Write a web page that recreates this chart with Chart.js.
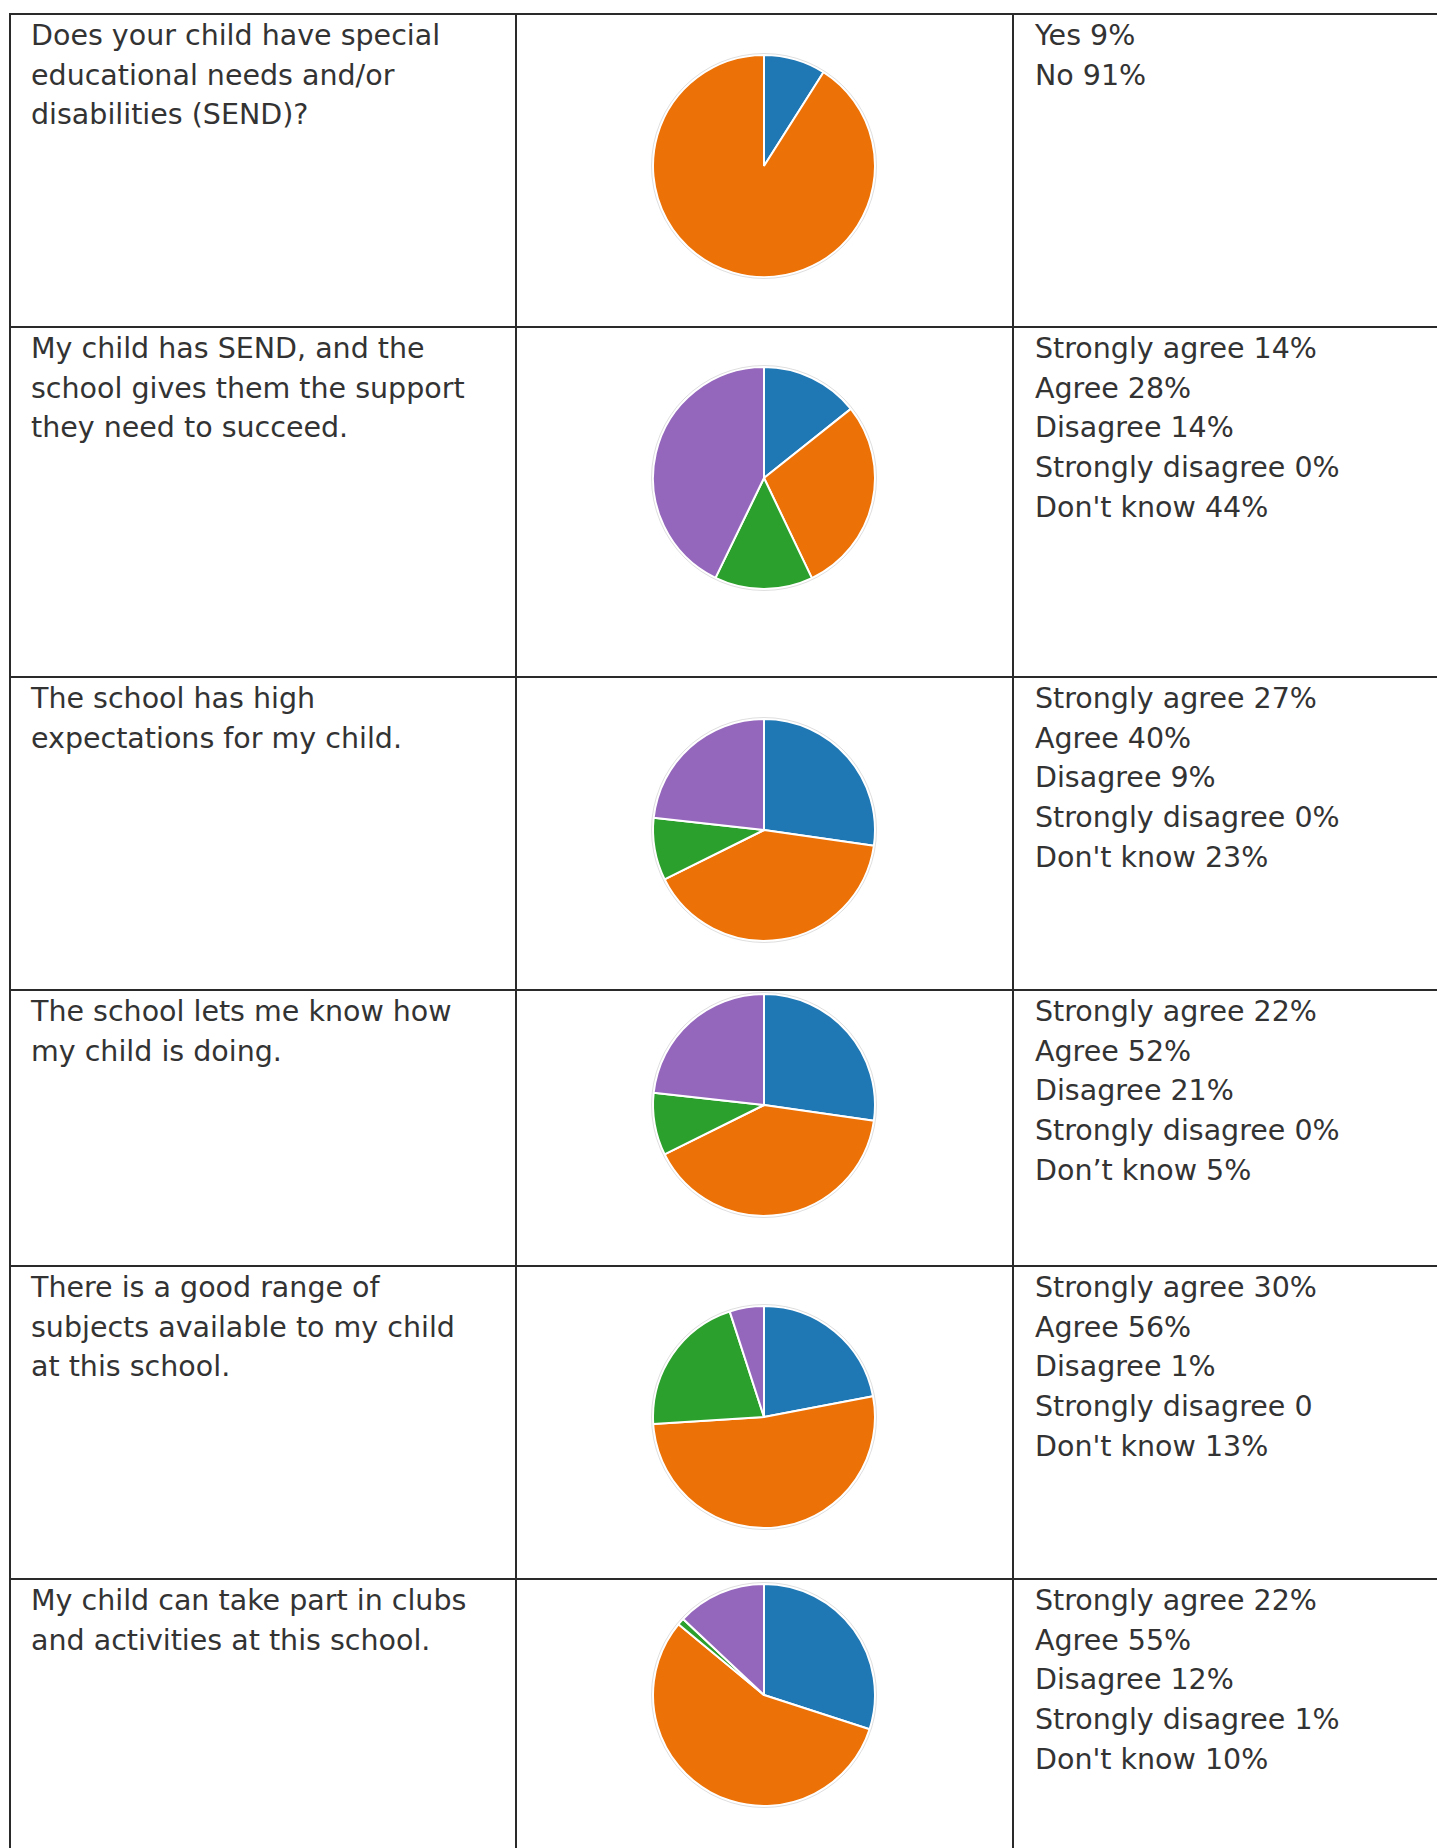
<!DOCTYPE html>
<html>
<head>
<meta charset="utf-8">
<script src="https://cdn.jsdelivr.net/npm/chart.js@4.4.0/dist/chart.umd.min.js"></script>
<style>
  body {
    margin: 0;
    background: #fff;
    width: 1437px;
    height: 1848px;
    overflow: hidden;
    position: relative;
    font-family: "DejaVu Sans", sans-serif;
    color: #333;
  }
  .cell {
    position: absolute;
    box-sizing: border-box;
    border-top: 2px solid #2a2a2a;
    border-left: 2px solid #2a2a2a;
    font-size: 28.5px;
    line-height: 39.7px;
    white-space: pre-line;
    padding-top: 1px;
  }
  .q { padding-left: 20px; }
  .answers { padding-left: 21px; }
  .pie { position: absolute; width: 228px; height: 228px; }
</style>
</head>
<body>
<script>
const $ = document;

// questions (left column)
const questions = [
  "Does your child have special\neducational needs and/or\ndisabilities (SEND)?",
  "My child has SEND, and the\nschool gives them the support\nthey need to succeed.",
  "The school has high\nexpectations for my child.",
  "The school lets me know how\nmy child is doing.",
  "There is a good range of\nsubjects available to my child\nat this school.",
  "My child can take part in clubs\nand activities at this school.",
];

// answer categories
const yesNoLabels = ["Yes", "No"];
const agreeLabels = ["Strongly agree", "Agree", "Disagree", "Strongly disagree", "Don't know"];

// slice values as drawn in each pie
const sendValues = [9, 91];
const supportValues = [14.3, 28.6, 14.3, 0, 42.8];
const expectationValues = [27, 40, 9, 0, 23];
const informedValues = [27, 40, 9, 0, 23];
const subjectValues = [22, 52, 21, 0, 5];
const clubValues = [30, 56, 1, 0, 13];

// text written in the right column
const sendText = ["Yes 9%", "No 91%"];
const supportText = ["Strongly agree 14%", "Agree 28%", "Disagree 14%", "Strongly disagree 0%", "Don't know 44%"];
const expectationText = ["Strongly agree 27%", "Agree 40%", "Disagree 9%", "Strongly disagree 0%", "Don't know 23%"];
const informedText = ["Strongly agree 22%", "Agree 52%", "Disagree 21%", "Strongly disagree 0%", "Don\u2019t know 5%"];
const subjectText = ["Strongly agree 30%", "Agree 56%", "Disagree 1%", "Strongly disagree 0", "Don't know 13%"];
const clubText = ["Strongly agree 22%", "Agree 55%", "Disagree 12%", "Strongly disagree 1%", "Don't know 10%"];

const rows = [
  { labels: yesNoLabels, values: sendValues, text: sendText },
  { labels: agreeLabels, values: supportValues, text: supportText },
  { labels: agreeLabels, values: expectationValues, text: expectationText },
  { labels: agreeLabels, values: informedValues, text: informedText },
  { labels: agreeLabels, values: subjectValues, text: subjectText },
  { labels: agreeLabels, values: clubValues, text: clubText },
];

const sliceColors = ["#1f77b4", "#ec7106", "#2ca02c", "#d62728", "#9467bd"];

// layout
const rowTops = [13, 326, 676, 989, 1265, 1578, 1900];
const colLefts = [9, 515, 1012, 1445];
const pieCenterX = 764;
const pieCenterY = [165.5, 477.5, 830, 1105, 1417, 1694.5];

const outlinePlugin = {
  id: "outline",
  afterDatasetsDraw(chart) {
    const arc = chart.getDatasetMeta(0).data[0];
    const ctx = chart.ctx;
    ctx.save();
    ctx.beginPath();
    ctx.arc(arc.x, arc.y, arc.outerRadius + 1.5, 0, Math.PI * 2);
    ctx.strokeStyle = "rgba(0,0,0,0.13)";
    ctx.lineWidth = 1;
    ctx.stroke();
    ctx.restore();
  },
};

function makeCell(row, col, cls, text) {
  const cell = $.createElement("div");
  cell.className = "cell " + cls;
  cell.style.left = colLefts[col] + "px";
  cell.style.top = rowTops[row] + "px";
  cell.style.width = colLefts[col + 1] - colLefts[col] + "px";
  cell.style.height = rowTops[row + 1] - rowTops[row] + "px";
  cell.textContent = text;
  $.body.appendChild(cell);
}

function drawPie(i, row) {
  const wrap = $.createElement("div");
  wrap.className = "pie";
  wrap.style.left = pieCenterX - 114 + "px";
  wrap.style.top = pieCenterY[i] - 114 + "px";
  const canvas = $.createElement("canvas");
  canvas.width = 228;
  canvas.height = 228;
  wrap.appendChild(canvas);
  $.body.appendChild(wrap);

  const colors = row.labels.length === 2 ? sliceColors.slice(0, 2) : sliceColors;
  new Chart(canvas, {
    type: "pie",
    data: {
      labels: row.labels,
      datasets: [
        {
          data: row.values,
          backgroundColor: colors,
          borderColor: "#fff",
          borderWidth: 2,
        },
      ],
    },
    options: {
      responsive: false,
      animation: false,
      layout: { padding: 2 },
      plugins: { legend: { display: false }, tooltip: { enabled: false } },
    },
    plugins: [outlinePlugin],
  });
}

rows.forEach((row, i) => {
  makeCell(i, 0, "q", questions[i]);
  makeCell(i, 1, "", "");
  makeCell(i, 2, "answers", row.text.join("\n"));
  drawPie(i, row);
});
</script>
</body>
</html>
